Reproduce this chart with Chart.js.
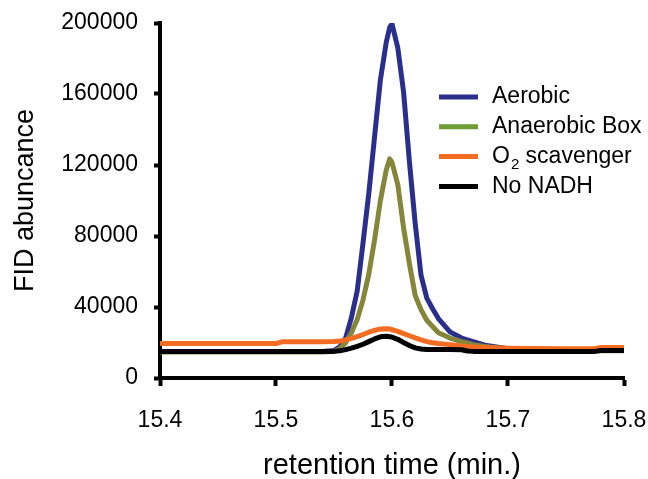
<!DOCTYPE html>
<html>
<head>
<meta charset="utf-8">
<script src="https://cdn.jsdelivr.net/npm/chart.js@4"></script>
<style>
  body { margin: 0; background: #fff; }
  canvas { display: block; }
</style>
</head>
<body>
<canvas id="fidChart" width="648" height="479"></canvas>
<script>
// tempos de retenção (min.) compartilhados pelas quatro séries
const tempos = [15.40, 15.50, 15.505, 15.54, 15.55, 15.555, 15.56, 15.565, 15.57, 15.575,
  15.58, 15.585, 15.59, 15.595, 15.598, 15.60, 15.605, 15.61, 15.615, 15.62,
  15.625, 15.63, 15.635, 15.64, 15.65, 15.66, 15.665, 15.67, 15.68, 15.69,
  15.70, 15.72, 15.75, 15.775, 15.78, 15.80];

const aerobic = [15000, 15000, 15000, 15000, 15500, 17500, 22500, 34000, 49000, 76000,
  104000, 136000, 168000, 189000, 197500, 199500, 186000, 161000, 122000, 87000,
  58000, 45000, 39000, 33500, 26000, 22500, 21500, 20500, 18500, 17500,
  16500, 15800, 15500, 15500, 15700, 15700];

const anaerobicBox = [14600, 14600, 14600, 14600, 15000, 16500, 19800, 25500, 33000, 44000,
  58500, 78000, 100000, 117000, 123500, 121500, 109000, 84500, 64500, 46500,
  38500, 32500, 29000, 25500, 22500, 20500, 19700, 18800, 17800, 17000,
  16300, 15700, 15400, 15300, 15300, 15300];

const o2Scavenger = [19400, 19400, 20400, 20400, 20500, 20800, 21500, 22300, 23300, 24500,
  25800, 26800, 27600, 27800, 27600, 27300, 26300, 25000, 23800, 22600,
  21500, 20500, 19900, 19400, 18800, 18000, 17700, 17500, 17200, 17000,
  16800, 16600, 16500, 16500, 17200, 17200];

const noNADH = [15000, 15000, 15000, 15000, 15000, 15300, 16000, 16800, 17800, 19000,
  20500, 22000, 23200, 23500, 23300, 23000, 21800, 20000, 18300, 17000,
  16300, 16000, 16000, 16000, 16000, 15900, 15200, 15000, 15000, 15000,
  15000, 15000, 15000, 15000, 15500, 15500];

const nomes = ['Aerobic', 'Anaerobic Box', 'O_2 scavenger', 'No NADH'];
const cores = ['#2b2f8c', '#86863a', '#f36c21', '#000000'];
const coresLegenda = ['#2b2f8c', '#6f9c35', '#f36c21', '#000000'];

const xTicks = [15.4, 15.5, 15.6, 15.7, 15.8];
const yTicks = [0, 40000, 80000, 120000, 160000, 200000];

const fonte = '"Liberation Sans", Arial, sans-serif';

function pontos(valores) {
  return tempos.map((t, i) => ({ x: t, y: valores[i] }));
}

// zera o padding automático das escalas, para a área do gráfico ficar fixa
function semPadding(s) {
  s.paddingTop = 0;
  s.paddingBottom = 0;
  s.paddingLeft = 0;
  s.paddingRight = 0;
}

// legenda desenhada dentro da área do gráfico (com subscrito no O2)
const legendaInterna = {
  id: 'legendaInterna',
  afterDraw(chart) {
    const c = chart.ctx;
    c.save();
    chart.data.datasets.forEach((ds, i) => {
      const y = 97 + i * 29.8;
      c.strokeStyle = coresLegenda[i];
      c.lineWidth = 5;
      c.beginPath();
      c.moveTo(439, y);
      c.lineTo(478, y);
      c.stroke();

      c.fillStyle = '#000';
      c.textBaseline = 'middle';
      c.textAlign = 'left';
      let x = 492;
      ds.label.split(/_(\d)/).forEach((parte, k) => {
        if (k % 2 === 1) {
          c.font = '15px ' + fonte;
          c.fillText(parte, x + 1, y + 8);
          x += c.measureText(parte).width + 1;
        } else {
          c.font = '23px ' + fonte;
          c.fillText(parte, x, y);
          x += c.measureText(parte).width;
        }
      });
    });
    c.restore();
  }
};

const series = [aerobic, anaerobicBox, o2Scavenger, noNADH];

new Chart(document.getElementById('fidChart').getContext('2d'), {
  type: 'line',
  data: {
    datasets: series.map((valores, i) => ({
      label: nomes[i],
      data: pontos(valores),
      borderColor: cores[i],
      borderWidth: 5,
      pointRadius: 0,
      tension: 0,
      borderJoinStyle: 'round',
      fill: false,
      order: 3 - i // preto por cima
    }))
  },
  options: {
    responsive: false,
    animation: false,
    layout: { padding: { top: 23, right: 24, left: 0, bottom: 0 } },
    plugins: {
      legend: { display: false },
      tooltip: { enabled: false }
    },
    scales: {
      x: {
        type: 'linear',
        min: 15.4,
        max: 15.8,
        afterBuildTicks: s => { s.ticks = xTicks.map(v => ({ value: v })); },
        afterFit: s => { s.height = 101; semPadding(s); },
        border: { display: true, color: '#000', width: 4 },
        grid: { drawOnChartArea: false, drawTicks: true, tickLength: 8, tickWidth: 4, tickColor: '#000' },
        ticks: {
          color: '#000',
          padding: 21,
          maxRotation: 0,
          font: { family: fonte, size: 23 },
          callback: v => v.toFixed(1)
        },
        title: {
          display: true,
          text: 'retention time (min.)',
          color: '#000',
          font: { family: fonte, size: 29, lineHeight: 0.9 },
          padding: { top: 0, bottom: 0 }
        }
      },
      y: {
        min: 0,
        max: 200000,
        afterBuildTicks: s => { s.ticks = yTicks.map(v => ({ value: v })); },
        afterFit: s => { s.width = 160; semPadding(s); },
        border: { display: true, color: '#000', width: 4 },
        grid: { drawOnChartArea: false, drawTicks: true, tickLength: 6, tickWidth: 4, tickColor: '#000' },
        ticks: {
          color: '#000',
          padding: 16,
          font: { family: fonte, size: 23 },
          callback: v => String(v)
        },
        title: {
          display: true,
          text: 'FID abuncance',
          color: '#000',
          font: { family: fonte, size: 27 },
          padding: { top: 9, bottom: 0 }
        }
      }
    }
  },
  plugins: [legendaInterna]
});
</script>
</body>
</html>
